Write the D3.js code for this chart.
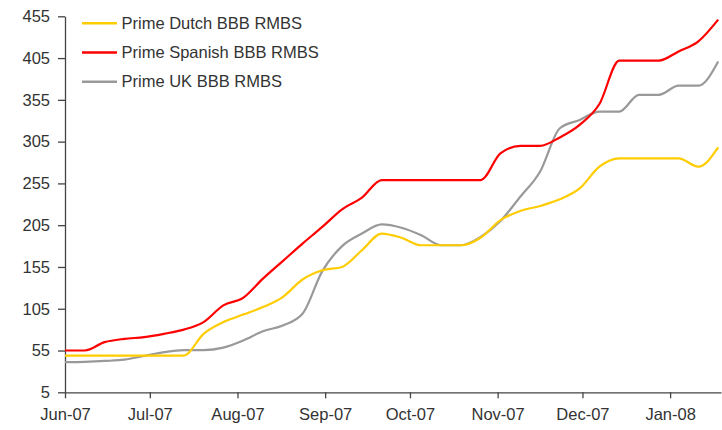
<!DOCTYPE html>
<html>
<head>
<meta charset="utf-8">
<script src="https://cdn.jsdelivr.net/npm/d3@7"></script>
<style>
  html, body { margin: 0; padding: 0; background: #fff; }
  svg { display: block; }
  text { font-family: "Liberation Sans", Arial, sans-serif; fill: #333; }
</style>
</head>
<body>
<svg id="chart" width="722" height="430"></svg>
<script>
const dates = ["2007-06-01","2007-06-08","2007-06-15","2007-06-22","2007-06-29",
  "2007-07-06","2007-07-13","2007-07-20","2007-07-27",
  "2007-08-03","2007-08-10","2007-08-17","2007-08-24","2007-08-31",
  "2007-09-07","2007-09-14","2007-09-21","2007-09-28",
  "2007-10-05","2007-10-12","2007-10-19","2007-10-26",
  "2007-11-02","2007-11-09","2007-11-16","2007-11-23","2007-11-30",
  "2007-12-07","2007-12-14","2007-12-21","2007-12-28",
  "2008-01-04","2008-01-11","2008-01-18"];

const dutch = [49,49,49,49,49,49,49,75,89,98,107,119,140,151,155,175,195,190,181,181,181,190,211,222,228,236,249,275,285,285,285,285,275,298];
const spanish = [55,55,65,69,71,75,80,89,109,118,141,162,183,203,224,238,259,259,259,259,259,259,291,300,300,310,325,350,402,402,402,413,425,451];
const uk = [41,41.5,42.5,44,48.5,53,55.5,55.5,58.5,67,78,85,99,150,180,195,206,202,193,181,181,191,210,239,269,321,331,341,341,361,361,372,372,401];

const seriesNames = ["Prime Dutch BBB RMBS", "Prime Spanish BBB RMBS", "Prime UK BBB RMBS"];
const seriesColors = ["#FFCC00", "#FF0000", "#999999"];
const seriesValues = [dutch, spanish, uk];
const yTicks = [5,55,105,155,205,255,305,355,405,455];

const parse = d3.timeParse("%Y-%m-%d");
const dateObjs = dates.map(parse);

const svg = d3.select("#chart");
const x = d3.scaleTime()
  .domain([parse("2007-06-01"), parse("2008-01-19")])
  .range([65, 721]);
const y = d3.scaleLinear().domain([5, 455]).range([392.3, 16.3]);

// axes
const yAxis = svg.append("g").attr("transform", "translate(65,0)")
  .call(d3.axisLeft(y).tickValues(yTicks).tickSize(7).tickSizeOuter(0).tickPadding(8));
const xAxis = svg.append("g").attr("transform", "translate(0,392.3)")
  .call(d3.axisBottom(x).ticks(d3.timeMonth.every(1)).tickFormat(d3.timeFormat("%b-%y")).tickSize(6).tickSizeOuter(0).tickPadding(10));
[yAxis, xAxis].forEach(g => {
  g.selectAll("path.domain").attr("stroke", "#444").attr("stroke-width", 1.3);
  g.selectAll(".tick line").attr("stroke", "#444").attr("stroke-width", 1.3);
  g.selectAll("text").attr("font-size", 16.5).attr("fill", "#333")
    .style("font-family", "'Liberation Sans', Arial, sans-serif");
});

// lines
const line = d3.line()
  .x((d, i) => x(dateObjs[i]))
  .y(d => y(d))
  .curve(d3.curveMonotoneX);
// draw order: UK, Dutch, Spanish (Spanish on top)
[2, 0, 1].forEach(s => {
  svg.append("path")
    .datum(seriesValues[s])
    .attr("fill", "none")
    .attr("stroke", seriesColors[s])
    .attr("stroke-width", 2.2)
    .attr("stroke-linejoin", "round")
    .attr("d", line);
});

// legend
const legend = svg.append("g");
seriesNames.forEach((name, i) => {
  const yy = 23.3 + i * 29.2;
  legend.append("line").attr("x1", 82).attr("x2", 117).attr("y1", yy).attr("y2", yy)
    .attr("stroke", seriesColors[i]).attr("stroke-width", 2.5);
  legend.append("text").attr("x", 121.5).attr("y", yy).attr("dy", "0.35em")
    .attr("font-size", 16.5).text(name);
});
</script>
</body>
</html>
